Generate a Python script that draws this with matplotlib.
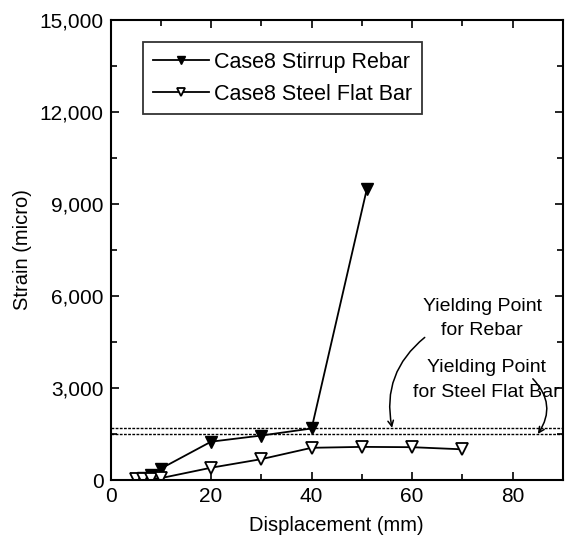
import numpy as np
import matplotlib.pyplot as plt
from matplotlib.ticker import FuncFormatter

plt.rcParams['font.family'] = ['Liberation Sans', 'DejaVu Sans']

# displacement (mm) vs strain (micro)
disp_rebar = [5, 6.5, 8, 10, 20, 30, 40, 51]
strain_rebar = [40, 60, 150, 370, 1250, 1450, 1680, 9500]
disp_flat = [5, 6.5, 8, 10, 20, 30, 40, 50, 60, 70]
strain_flat = [20, 25, 40, 60, 400, 680, 1050, 1080, 1070, 1000]

yield_rebar = 1700
yield_flat = 1500

fig = plt.figure(figsize=(5.72, 5.45), dpi=100)
ax = fig.add_axes([110.5/572, 1-480/545, 452.5/572, 460/545])

ax.plot(disp_rebar, strain_rebar, '-v', color='black', lw=1.3, ms=8.5,
        mfc='black', label='Case8 Stirrup Rebar')
ax.plot(disp_flat, strain_flat, '-v', color='black', lw=1.3, ms=8.5,
        mfc='white', mew=1.3, label='Case8 Steel Flat Bar')

ax.axhline(yield_rebar, color='black', ls=(0, (2, 1)), lw=1.0)
ax.axhline(yield_flat, color='black', ls=(0, (2, 1)), lw=1.0)

ax.set_xlim(0, 90)
ax.set_ylim(0, 15000)
ax.set_xticks([0, 20, 40, 60, 80])
ax.set_xticks(np.arange(0, 91, 10), minor=True)
ax.set_yticks(np.arange(0, 15001, 3000))
ax.set_yticks(np.arange(0, 15001, 1500), minor=True)
ax.yaxis.set_major_formatter(FuncFormatter(lambda v, p: '{:,.0f}'.format(v)))
ax.tick_params(which='both', direction='in', top=True, right=True, labelsize=15,
               width=1.2)
ax.tick_params(which='major', length=6, pad=5)
ax.tick_params(which='minor', length=4)
for s in ax.spines.values():
    s.set_linewidth(1.5)

ax.set_xlabel('Displacement (mm)', fontsize=14.5, labelpad=7)
ax.set_ylabel('Strain (micro)', fontsize=14.5, labelpad=5)

leg = ax.legend(loc='upper left', bbox_to_anchor=(0.072, 0.952), fontsize=15.5,
                handlelength=2.6, frameon=True, fancybox=False, edgecolor='black',
                borderpad=0.45, labelspacing=0.5, handletextpad=0.25,
                borderaxespad=0, markerscale=0.7)
leg.get_frame().set_linewidth(1.3)

# yield point labels and their arrows
ax.text(73.9, 5280, 'Yielding Point\nfor Rebar', ha='center', va='center',
        fontsize=14, linespacing=1.55)
ax.text(74.7, 3260, 'Yielding Point\nfor Steel Flat Bar', ha='center', va='center',
        fontsize=14, linespacing=1.55)
ax.annotate('', xy=(56, yield_rebar), xytext=(62.5, 4650),
            arrowprops=dict(arrowstyle='->', color='black', lw=1.1,
                            connectionstyle='arc3,rad=0.3',
                            shrinkA=0, shrinkB=0))
ax.annotate('', xy=(85, yield_flat), xytext=(84, 3300),
            arrowprops=dict(arrowstyle='->', color='black', lw=1.1,
                            connectionstyle='arc3,rad=-0.4',
                            shrinkA=0, shrinkB=0))

fig.savefig('out.png', dpi=100)
